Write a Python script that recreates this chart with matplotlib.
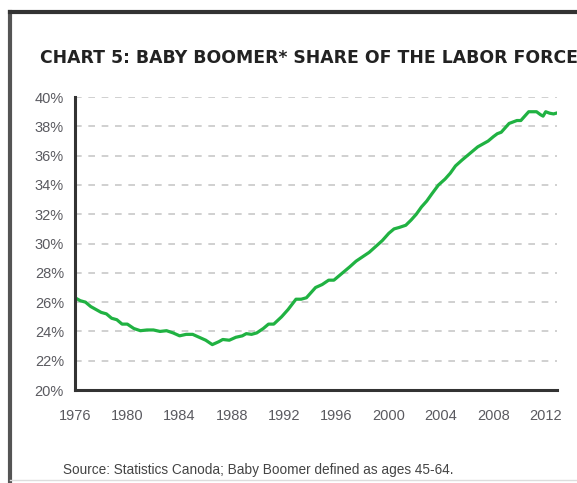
import matplotlib
matplotlib.use("Agg")
import matplotlib.pyplot as plt
from matplotlib.lines import Line2D
from matplotlib.ticker import FuncFormatter

# Baby boomer share of the labor force (%)
years = [1976.0, 1976.4, 1976.8, 1977.2, 1977.6, 1978.0, 1978.4, 1978.8, 1979.2, 1979.6,
         1980.0, 1980.5, 1981.0, 1981.5, 1982.0, 1982.5, 1983.0, 1983.5, 1984.0, 1984.5,
         1985.0, 1985.5, 1986.0, 1986.5, 1987.0, 1987.3, 1987.8, 1988.3, 1988.8, 1989.1,
         1989.5, 1989.9, 1990.4, 1990.8, 1991.2, 1991.8, 1992.3, 1992.9, 1993.3, 1993.7,
         1994.0, 1994.4, 1994.9, 1995.4, 1995.8, 1996.2, 1996.6, 1997.0, 1997.5, 1998.0,
         1998.5, 1999.0, 1999.5, 2000.0, 2000.4, 2000.8, 2001.3, 2001.7, 2002.1, 2002.5,
         2002.9, 2003.3, 2003.8, 2004.3, 2004.7, 2005.1, 2005.6, 2006.0, 2006.4, 2006.8,
         2007.2, 2007.6, 2008.0, 2008.3, 2008.6, 2008.9, 2009.2, 2009.5, 2009.8, 2010.1,
         2010.4, 2010.7, 2011.0, 2011.3, 2011.6, 2011.8, 2012.0, 2012.3, 2012.6, 2012.8]
share = [26.3, 26.1, 26.0, 25.7, 25.5, 25.3, 25.2, 24.9, 24.8, 24.5,
         24.5, 24.2, 24.05, 24.1, 24.1, 24.0, 24.05, 23.9, 23.7, 23.8,
         23.8, 23.6, 23.4, 23.1, 23.3, 23.45, 23.4, 23.6, 23.7, 23.85,
         23.8, 23.9, 24.2, 24.5, 24.5, 25.0, 25.5, 26.2, 26.2, 26.3,
         26.6, 27.0, 27.2, 27.5, 27.5, 27.8, 28.1, 28.4, 28.8, 29.1,
         29.4, 29.8, 30.2, 30.7, 31.0, 31.1, 31.25, 31.6, 32.0, 32.5,
         32.9, 33.4, 34.0, 34.4, 34.8, 35.3, 35.7, 36.0, 36.3, 36.6,
         36.8, 37.0, 37.3, 37.5, 37.6, 37.9, 38.2, 38.3, 38.4, 38.4,
         38.7, 39.0, 39.0, 39.0, 38.8, 38.7, 39.0, 38.9, 38.85, 38.9]

x_ticks = [1976, 1980, 1984, 1988, 1992, 1996, 2000, 2004, 2008, 2012]
y_ticks = [20, 22, 24, 26, 28, 30, 32, 34, 36, 38, 40]

TITLE = "CHART 5: BABY BOOMER* SHARE OF THE LABOR FORCE"
SOURCE = "Source: Statistics Canoda; Baby Boomer defined as ages 45-64."

fig = plt.figure(figsize=(5.77, 4.83), dpi=100)
ax = fig.add_axes([0.130, 0.1925, 0.835, 0.6065])

ax.plot(years, share, color="#20b242", lw=2.3, solid_joinstyle="round")

ax.set_xlim(1976, 2012.85)
ax.set_ylim(20, 40)
ax.set_xticks(x_ticks)
ax.set_yticks(y_ticks)
ax.yaxis.set_major_formatter(FuncFormatter(lambda v, _: f"{v:.0f}%"))

ax.grid(axis="y", color="#c8c8c8", ls=(0, (4, 4)), lw=1.2)
ax.set_axisbelow(True)
for side in ("top", "right"):
    ax.spines[side].set_visible(False)
for side in ("left", "bottom"):
    ax.spines[side].set_color("#333333")
    ax.spines[side].set_linewidth(2.2)

ax.tick_params(length=0, labelsize=10.5, labelcolor="#5a5a60")
ax.tick_params(axis="x", pad=14)
ax.tick_params(axis="y", pad=8)
for lbl in ax.get_xticklabels() + ax.get_yticklabels():
    lbl.set_family("Liberation Sans")

fig.text(40 / 577, 1 - 58 / 483, TITLE, family="DejaVu Sans", weight="bold",
         fontsize=12.4, color="#222222", va="center", ha="left")
fig.text(63 / 577, 1 - 470 / 483, SOURCE, family="Liberation Sans",
         fontsize=9.8, color="#444444", va="center", ha="left")

# outer frame of the clipped report box
fig.add_artist(Line2D([10 / 577, 10 / 577], [0, 1 - 12 / 483], transform=fig.transFigure,
                      color="#555555", lw=3))
fig.add_artist(Line2D([10 / 577, 1], [1 - 12 / 483, 1 - 12 / 483], transform=fig.transFigure,
                      color="#333333", lw=3))
fig.add_artist(Line2D([10 / 577, 1], [1 - 480 / 483, 1 - 480 / 483], transform=fig.transFigure,
                      color="#dddddd", lw=1))

fig.savefig("out.png", dpi=100)
